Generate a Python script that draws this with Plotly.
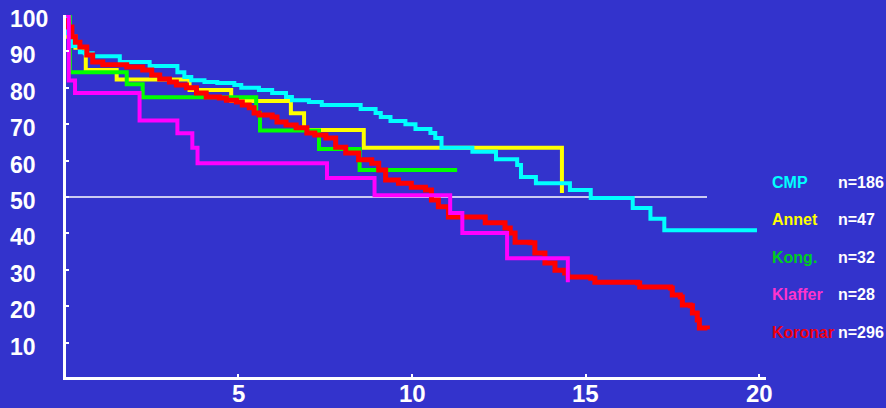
import plotly.graph_objects as go

# ---------------- data ----------------
cmp_x = [0, 0.08, 0.2, 0.43, 0.57, 0.80, 1.58, 2.44, 3.24, 3.44, 3.64, 4.02, 4.39, 4.88, 5.08,
         5.59, 5.97, 6.37, 6.54, 7.03, 7.40, 8.52, 8.95, 9.10, 9.38, 9.81, 10.10, 10.53, 10.67,
         10.85, 11.74, 12.42, 13.03, 13.14, 13.57, 14.55, 15.15, 16.36, 16.87, 17.27, 19.94]
cmp_y = [100, 95, 91.5, 89.8, 89.5, 88.7, 87.1, 86.0, 84.3, 83.0, 82.1, 81.6, 81.3, 80.8, 80.0,
         79.4, 78.6, 77.5, 76.6, 76.1, 75.3, 74.2, 73.1, 72.0, 70.9, 70.0, 68.7, 67.6, 66.2,
         63.5, 62.4, 60.4, 58.8, 55.5, 53.8, 51.9, 49.7, 47.0, 44.0, 40.9, 40.9]

annet_x = [0, 0.08, 0.3, 0.6, 1.49, 3.59, 4.79, 6.51, 6.89, 8.61, 14.32]
annet_y = [100, 94.0, 91.0, 84.9, 82.3, 79.4, 76.4, 73.0, 68.4, 63.5, 51.1]

kong_x = [0, 0.14, 1.78, 2.24, 5.51, 5.62, 7.32, 8.49, 11.3]
kong_y = [100, 84.3, 81.0, 77.4, 73.1, 68.3, 63.2, 57.4, 57.4]

klaffer_x = [0, 0.11, 0.29, 2.15, 3.24, 3.67, 3.82, 7.55, 8.92, 11.1, 11.45, 12.74, 14.49]
klaffer_y = [100, 82.0, 78.6, 71.0, 67.5, 63.5, 59.3, 55.2, 50.5, 45.6, 40.1, 33.2, 26.6]

koronar_x = [0, 0.1, 0.2, 0.3, 0.43, 0.63, 0.80, 1.09, 1.78, 2.24, 2.50, 2.73, 3.01, 3.21, 3.50,
             3.79, 4.07, 4.45, 4.65, 4.94, 5.11, 5.31, 5.45, 5.59, 5.97, 6.11, 6.37, 6.66, 6.97,
             7.20, 7.52, 7.80, 8.09, 8.46, 8.84, 9.04, 9.24, 9.61, 9.98, 10.39, 10.56, 10.76,
             11.05, 12.11, 12.68, 12.83, 12.97, 13.40, 13.54, 13.83, 14.12, 14.40, 14.49, 15.15,
             15.27, 16.50, 16.56, 17.45, 17.50, 17.73, 17.79, 18.02, 18.08, 18.22, 18.28, 18.51]
koronar_y = [98.5, 96.7, 94.0, 92.5, 91.2, 89.0, 87.1, 86.3, 85.7, 84.9, 83.5, 82.4, 81.6, 80.8, 80.0,
             78.6, 77.5, 77.2, 76.6, 76.1, 75.3, 74.5, 73.1, 72.5, 72.0, 70.6, 69.8, 69.0, 67.6,
             67.0, 66.2, 63.7, 62.1, 60.2, 59.3, 57.4, 54.7, 53.8, 52.7, 51.9, 49.2, 47.3,
             44.5, 42.9, 41.5, 40.1, 37.6, 37.4, 34.6, 31.9, 29.9, 29.1, 28.0, 27.7,
             26.6, 26.4, 25.3, 25.0, 23.1, 22.5, 20.3, 20.1, 18.1, 16.2, 14.0, 13.7]

ref_x = [0, 18.5]
ref_y = [50, 50]

group_names = ["CMP", "Annet", "Kong.", "Klaffer", "Koronar"]
group_n = ["n=186", "n=47", "n=32", "n=28", "n=296"]

x_tick_vals = [5, 10, 15, 20]
x_tick_text = ["5", "10", "15", "20"]
y_tick_vals = [10, 20, 30, 40, 50, 60, 70, 80, 90, 100]
y_tick_text = ["10", "20", "30", "40", "50", "60", "70", "80", "90", "100"]

# ---------------- style ----------------
BG = "#3333cc"
line_colors = {"CMP": "#00ffff", "Annet": "#ffff00", "Kong.": "#00ff00",
               "Klaffer": "#ff00ff", "Koronar": "#ff0000"}
label_colors = {"CMP": "#00ffff", "Annet": "#ffff00", "Kong.": "#00cc22",
                "Klaffer": "#ff33cc", "Koronar": "#ee0011"}
widths = {"CMP": 4, "Annet": 4, "Kong.": 4, "Klaffer": 4, "Koronar": 5}
FONT = "Liberation Sans, Arial, Helvetica, sans-serif"

W, H = 886, 408
ML, MR, MT, MB = 66, 120, 15, 31
PW = W - ML - MR
PH = H - MT - MB

series = {
    "Annet": (annet_x, annet_y),
    "Kong.": (kong_x, kong_y),
    "CMP": (cmp_x, cmp_y),
    "Koronar": (koronar_x, koronar_y),
    "Klaffer": (klaffer_x, klaffer_y),
}

fig = go.Figure()
fig.add_trace(go.Scatter(x=ref_x, y=ref_y, mode="lines",
                         line=dict(color="white", width=1.5), hoverinfo="skip"))
for name, (xs, ys) in series.items():
    fig.add_trace(go.Scatter(x=xs, y=ys, mode="lines", name=name,
                             line=dict(color=line_colors[name], width=widths[name], shape="hv")))

annotations = []
# y tick labels, left aligned
for v, t in zip(y_tick_vals, y_tick_text):
    annotations.append(dict(x=(8 - ML) / PW, xref="paper", y=v, yref="y", text=t,
                            showarrow=False, xanchor="left", yanchor="middle", yshift=-4,
                            font=dict(family=FONT, size=23, color="white", weight="bold")))
# x tick labels
for v, t in zip(x_tick_vals, x_tick_text):
    annotations.append(dict(x=v, xref="x", y=0, yref="paper", text=t,
                            showarrow=False, xanchor="center", yanchor="middle", yshift=-16,
                            font=dict(family=FONT, size=24, color="white", weight="bold")))
# legend-like labels
for i, (name, n) in enumerate(zip(group_names, group_n)):
    py = 182 + i * 37.5
    yp = (H - MB - py) / PH
    annotations.append(dict(x=(770 - ML) / PW, xref="paper", y=yp, yref="paper", text=name,
                            showarrow=False, xanchor="left", yanchor="middle",
                            font=dict(family=FONT, size=16, color=label_colors[name], weight="bold")))
    annotations.append(dict(x=(836 - ML) / PW, xref="paper", y=yp, yref="paper", text=n,
                            showarrow=False, xanchor="left", yanchor="middle",
                            font=dict(family=FONT, size=16, color="white", weight="bold")))

fig.update_layout(
    width=W, height=H,
    margin=dict(l=ML, r=MR, t=MT, b=MB, pad=0),
    paper_bgcolor=BG, plot_bgcolor=BG,
    showlegend=False,
    annotations=annotations,
    xaxis=dict(range=[0.03, 20.2], showgrid=False, zeroline=False,
               showline=True, linecolor="white", linewidth=3,
               ticks="inside", ticklen=3, tickwidth=2, tickcolor="white",
               tickvals=x_tick_vals, showticklabels=False,
               automargin=False),
    yaxis=dict(range=[0.55, 100], showgrid=False, zeroline=False,
               showline=True, linecolor="white", linewidth=3,
               ticks="inside", ticklen=3, tickwidth=2, tickcolor="white",
               tickvals=y_tick_vals, showticklabels=False, automargin=False),
)

fig.write_html("out.html",
               config={"displayModeBar": False},
               post_script="document.body.style.margin='0';document.body.style.padding='0';"
                           "document.body.style.overflow='hidden';"
                           "document.body.style.background='" + BG + "';")
